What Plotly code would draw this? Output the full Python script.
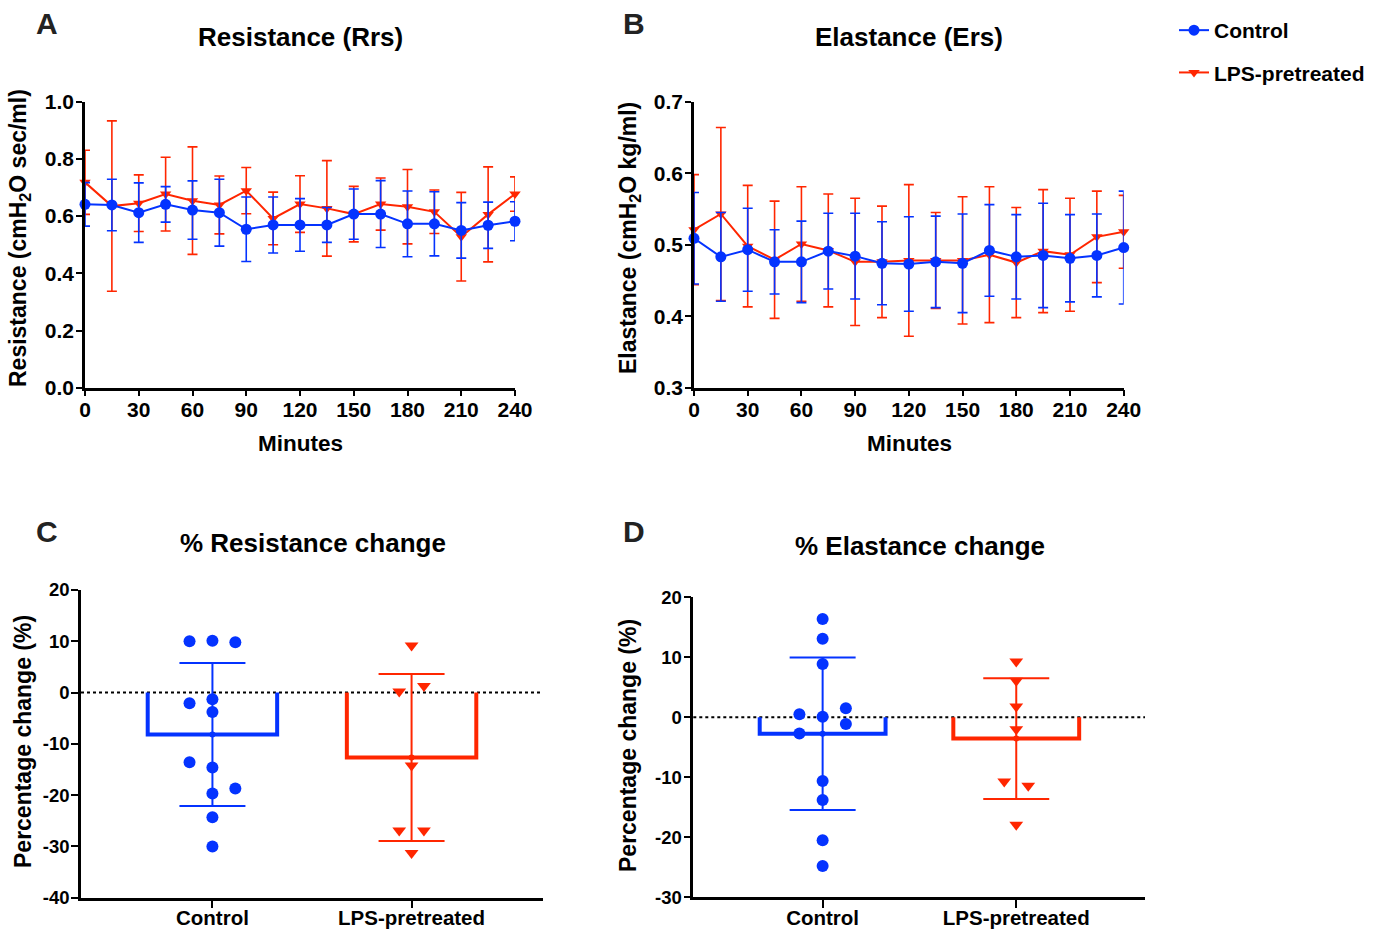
import numpy as np
import plotly.graph_objects as go

# ---------------- data ----------------
minutes = [0, 15, 30, 45, 60, 75, 90, 105, 120, 135, 150, 165, 180, 195, 210, 225, 240]

# Resistance (Rrs), mean and SD per time point
ctrl_rrs = [0.641, 0.639, 0.612, 0.641, 0.621, 0.612, 0.554, 0.569, 0.569,
            0.569, 0.607, 0.607, 0.573, 0.573, 0.550, 0.568, 0.582]
ctrl_rrs_sd = [0.076, 0.090, 0.104, 0.062, 0.102, 0.117, 0.113, 0.098, 0.092,
               0.061, 0.088, 0.117, 0.115, 0.112, 0.097, 0.081, 0.068]
lps_rrs = [0.718, 0.635, 0.645, 0.677, 0.654, 0.639, 0.689, 0.592, 0.642,
           0.627, 0.607, 0.642, 0.633, 0.615, 0.528, 0.606, 0.677]
lps_rrs_sd = [0.112, 0.298, 0.099, 0.129, 0.188, 0.101, 0.081, 0.092, 0.099,
              0.167, 0.097, 0.091, 0.130, 0.076, 0.155, 0.166, 0.060]

# Elastance (Ers), mean and SD per time point
ctrl_ers = [0.509, 0.483, 0.493, 0.476, 0.476, 0.491, 0.484, 0.474, 0.473,
            0.476, 0.474, 0.492, 0.483, 0.485, 0.481, 0.485, 0.496]
ctrl_ers_sd = [0.064, 0.062, 0.058, 0.045, 0.057, 0.053, 0.060, 0.058, 0.066,
               0.064, 0.069, 0.064, 0.059, 0.073, 0.061, 0.058, 0.079]
lps_ers = [0.521, 0.543, 0.498, 0.479, 0.501, 0.492, 0.476, 0.476, 0.478,
           0.478, 0.478, 0.486, 0.475, 0.491, 0.486, 0.511, 0.518]
lps_ers_sd = [0.077, 0.121, 0.085, 0.082, 0.080, 0.079, 0.089, 0.078, 0.106,
              0.067, 0.089, 0.095, 0.077, 0.086, 0.079, 0.064, 0.051]

# Individual % changes (one value per animal)
ctrl_res_pct = [10.0, 10.1, 9.8, -2.1, -1.3, -3.8, -13.6, -14.6, -18.7, -19.7, -24.3, -30.0]
lps_res_pct = [9.2, 0.2, 1.3, -14.2, -26.9, -26.9, -31.3]
ctrl_ela_pct = [16.4, 13.1, 8.9, 0.5, 0.1, 1.5, -1.1, -2.7, -10.6, -13.8, -20.5, -24.8]
lps_ela_pct = [9.3, 6.1, 1.8, -2.0, -10.7, -11.4, -17.9]

# scatter-dot column of each point (left / centre / right)
ctrl_res_col = [-1, 0, 1, -1, 0, 0, -1, 0, 1, 0, 0, 0]
lps_res_col = [0, -1, 1, 0, -1, 1, 0]
ctrl_ela_col = [0, 0, 0, -1, 0, 1, 1, -1, 0, 0, 0, 0]
lps_ela_col = [0, 0, 0, 0, -1, 1, 0]

groups = ["Control", "LPS-pretreated"]
pct_ticks_c = [20, 10, 0, -10, -20, -30, -40]
pct_ticks_d = [20, 10, 0, -10, -20, -30]

# ---------------- style ----------------
BLUE = "#0433FF"
RED = "#FF2600"
FONT = "Arial, Liberation Sans, sans-serif"
W, H = 1383, 932


def fx(p):
    return p / W


def fy(p):
    return 1 - p / H


fig = go.Figure()


def time_series(x, y, sd, color, symbol, size, name, xa, ya, legend):
    return go.Scatter(
        x=x, y=y, name=name, mode="lines+markers",
        line=dict(color=color, width=2),
        marker=dict(color=color, symbol=symbol, size=size),
        error_y=dict(type="data", array=sd, visible=True, color=color,
                     thickness=1.6, width=5),
        xaxis=xa, yaxis=ya, cliponaxis=False, showlegend=legend,
        legendgroup=name, legendrank=1 if name == "Control" else 2,
    )


# Panel A
fig.add_trace(time_series(minutes, lps_rrs, lps_rrs_sd, RED, "triangle-down", 10,
                          "LPS-pretreated", "x", "y", True))
fig.add_trace(time_series(minutes, ctrl_rrs, ctrl_rrs_sd, BLUE, "circle", 11,
                          "Control", "x", "y", True))
# Panel B
fig.add_trace(time_series(minutes, lps_ers, lps_ers_sd, RED, "triangle-down", 10,
                          "LPS-pretreated", "x2", "y2", False))
fig.add_trace(time_series(minutes, ctrl_ers, ctrl_ers_sd, BLUE, "circle", 11,
                          "Control", "x2", "y2", False))

BAR_W = 0.65


def bar_with_points(pos, vals, cols, spread, color, symbol, size, xa, ya):
    v = np.array(vals, dtype=float)
    mean = v.mean()
    sd = v.std(ddof=1)
    half = BAR_W / 2
    # open bar outline (sides and end, no edge along the baseline)
    fig.add_trace(go.Scatter(
        x=[pos - half, pos - half, pos + half, pos + half],
        y=[0, mean, mean, 0], mode="lines",
        line=dict(color=color, width=4), xaxis=xa, yaxis=ya,
        showlegend=False, hoverinfo="skip",
    ))
    # mean +/- SD
    fig.add_trace(go.Scatter(
        x=[pos], y=[mean], mode="markers", marker=dict(size=0, color=color),
        error_y=dict(type="data", array=[sd], visible=True, color=color,
                     thickness=2, width=33),
        xaxis=xa, yaxis=ya, showlegend=False, cliponaxis=False,
    ))
    # individual animals
    fig.add_trace(go.Scatter(
        x=[pos + c * spread for c in cols], y=vals, mode="markers",
        marker=dict(color=color, symbol=symbol, size=size),
        xaxis=xa, yaxis=ya, showlegend=False, cliponaxis=False,
    ))


# Panel C
bar_with_points(0, ctrl_res_pct, ctrl_res_col, 0.115, BLUE, "circle", 12, "x3", "y3")
bar_with_points(1, lps_res_pct, lps_res_col, 0.062, RED, "triangle-down", 12, "x3", "y3")
# Panel D
bar_with_points(0, ctrl_ela_pct, ctrl_ela_col, 0.12, BLUE, "circle", 12, "x4", "y4")
bar_with_points(1, lps_ela_pct, lps_ela_col, 0.062, RED, "triangle-down", 12, "x4", "y4")

axis_common = dict(
    showline=True, linecolor="black", linewidth=2.5, mirror=False,
    ticks="outside", ticklen=6, tickwidth=2, tickcolor="black",
    showgrid=False, zeroline=False, fixedrange=True,
)
big_tick = dict(family=FONT, size=21, color="black", weight="bold")
small_tick = dict(family=FONT, size=18.5, color="black", weight="bold")
cat_tick = dict(family=FONT, size=20.5, color="black", weight="bold")

fig.update_layout(
    width=W, height=H,
    margin=dict(l=0, r=0, t=0, b=0, autoexpand=False),
    paper_bgcolor="white", plot_bgcolor="white",
    font=dict(family=FONT, color="black", weight="bold"),
    xaxis=dict(domain=[fx(85), fx(515)], range=[0, 240], tickvals=minutes[::2],
               tickfont=big_tick, anchor="y", ticklabelstandoff=-5, **axis_common),
    yaxis=dict(domain=[fy(387.7), fy(101.7)], range=[0, 1], dtick=0.2,
               tickformat=".1f", tickfont=big_tick, anchor="x",
               ticklabelstandoff=-2, **axis_common),
    xaxis2=dict(domain=[fx(694), fx(1123.7)], range=[0, 240], tickvals=minutes[::2],
                tickfont=big_tick, anchor="y2", ticklabelstandoff=-5, **axis_common),
    yaxis2=dict(domain=[fy(387.7), fy(101.7)], range=[0.3, 0.7], dtick=0.1,
                tickformat=".1f", tickfont=big_tick, anchor="x2",
                ticklabelstandoff=-2, **axis_common),
    xaxis3=dict(domain=[fx(81), fx(543)], range=[-0.66, 1.66], tickvals=[0, 1],
                ticktext=groups, tickfont=cat_tick, anchor="y3",
                ticklabelstandoff=-8, **{**axis_common, "ticklen": 8}),
    yaxis3=dict(domain=[fy(897.7), fy(590)], range=[-40, 20], tickvals=pct_ticks_c,
                ticktext=[str(t) for t in pct_ticks_c], tickfont=small_tick,
                anchor="x3", ticklabelstandoff=-2, **{**axis_common, "ticklen": 7}),
    xaxis4=dict(domain=[fx(693.3), fx(1145)], range=[-0.668, 1.665], tickvals=[0, 1],
                ticktext=groups, tickfont=cat_tick, anchor="y4",
                ticklabelstandoff=-8, **{**axis_common, "ticklen": 8}),
    yaxis4=dict(domain=[fy(897.3), fy(597.3)], range=[-30, 20], tickvals=pct_ticks_d,
                ticktext=[str(t) for t in pct_ticks_d], tickfont=small_tick,
                anchor="x4", ticklabelstandoff=-2, **{**axis_common, "ticklen": 7}),
    legend=dict(x=fx(1174), y=fy(10), xanchor="left", yanchor="top",
                font=dict(family=FONT, size=21, color="black", weight="bold"),
                bgcolor="rgba(0,0,0,0)", tracegroupgap=12, itemsizing="trace"),
    showlegend=True,
)

# dotted zero reference lines in the % change panels
for xa, ya in (("x3", "y3"), ("x4", "y4")):
    fig.add_shape(type="line", xref=f"{xa} domain", x0=0, x1=1, yref=ya, y0=0, y1=0,
                  line=dict(color="black", width=2, dash="dot"), layer="below")


def label(text, x, y, size, angle=0, color="black"):
    fig.add_annotation(text=text, x=fx(x), y=fy(y), xref="paper", yref="paper",
                       xanchor="center", yanchor="middle", showarrow=False,
                       textangle=angle,
                       font=dict(family=FONT, size=size, color=color, weight="bold"))


# panel letters
label("A", 47, 23, 30, color="#222222")
label("B", 634, 24, 30, color="#222222")
label("C", 47, 531, 30, color="#222222")
label("D", 634, 531, 30, color="#222222")
# panel titles
label("Resistance (Rrs)", 300, 37, 26)
label("Elastance (Ers)", 909, 37, 26)
label("% Resistance change", 313, 543, 26)
label("% Elastance change", 920, 546, 26)
# axis titles
label("Minutes", 300, 443, 22.5)
label("Minutes", 909, 443, 22.5)
label("Resistance (cmH<sub>2</sub>O sec/ml)", 20, 238, 23, -90)
label("Elastance (cmH<sub>2</sub>O kg/ml)", 630, 238, 23, -90)
label("Percentage change (%)", 23, 742, 23, -90)
label("Percentage change (%)", 628, 746, 23, -90)

fig.write_html("out.html")
